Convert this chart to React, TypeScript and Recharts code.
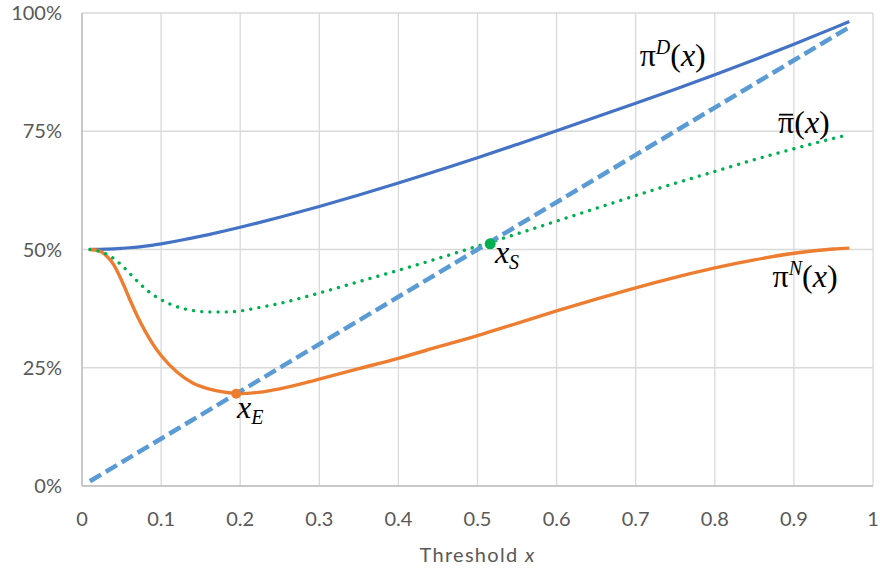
import React from 'react'
import {
    LineChart,
    Line,
    XAxis,
    YAxis,
    CartesianGrid,
    ReferenceDot
} from "recharts";

// threshold values along the x axis
const thresholds = [0.01, 0.02, 0.03, 0.04, 0.05, 0.06, 0.07, 0.08, 0.09, 0.10, 0.12, 0.14, 0.16, 0.18, 0.20, 0.22, 0.25, 0.30, 0.35, 0.40, 0.45, 0.50, 0.55, 0.60, 0.65, 0.70, 0.75, 0.80, 0.85, 0.90, 0.95, 0.97];

const piD = [0.5000, 0.5003, 0.5008, 0.5015, 0.5025, 0.5037, 0.5052, 0.5070, 0.5092, 0.5120, 0.5180, 0.5245, 0.5315, 0.5390, 0.5470, 0.5553, 0.5683, 0.5910, 0.6153, 0.6405, 0.6670, 0.6940, 0.7222, 0.7510, 0.7800, 0.8092, 0.8390, 0.8695, 0.9012, 0.9340, 0.9680, 0.9820];

const piN = [0.500, 0.498, 0.488, 0.468, 0.435, 0.396, 0.359, 0.327, 0.299, 0.276, 0.241, 0.218, 0.2055, 0.1985, 0.1955, 0.1975, 0.2055, 0.226, 0.248, 0.270, 0.294, 0.318, 0.344, 0.370, 0.395, 0.419, 0.441, 0.461, 0.478, 0.492, 0.501, 0.503];

const piBar = [0.500, 0.497, 0.491, 0.481, 0.467, 0.450, 0.433, 0.417, 0.404, 0.394, 0.379, 0.371, 0.368, 0.368, 0.370, 0.376, 0.386, 0.408, 0.432, 0.456, 0.481, 0.507, 0.533, 0.560, 0.587, 0.614, 0.640, 0.665, 0.690, 0.713, 0.735, 0.743];

const diagonal = [0.01, 0.02, 0.03, 0.04, 0.05, 0.06, 0.07, 0.08, 0.09, 0.10, 0.12, 0.14, 0.16, 0.18, 0.20, 0.22, 0.25, 0.30, 0.35, 0.40, 0.45, 0.50, 0.55, 0.60, 0.65, 0.70, 0.75, 0.80, 0.85, 0.90, 0.95, 0.97];

const xTicks = [0, 0.1, 0.2, 0.3, 0.4, 0.5, 0.6, 0.7, 0.8, 0.9, 1];
const yTicks = [0, 0.25, 0.5, 0.75, 1];

// marked points x_E and x_S
const xE = { x: 0.195, y: 0.195 };
const xS = { x: 0.516, y: 0.512 };

const data = thresholds.map((t, i) => ({
    x: t,
    piD: piD[i],
    piN: piN[i],
    piBar: piBar[i],
    diag: diagonal[i]
}));

const serif = "Liberation Serif";
const sans = "Lato";

const MathLabel = ({ cx, cy, sup, sub, bar }: any) => {
    const style = { fontFamily: serif, fontSize: 32 };
    if (sub) {
        return (
            <text x={cx} y={cy} style={style} fill="#000">
                <tspan fontStyle="italic">x</tspan>
                <tspan fontStyle="italic" style={{ fontSize: 20 }} dy={6}>{sub}</tspan>
            </text>
        );
    }
    return (
        <g>
            <text x={cx} y={cy} style={style} fill="#000">
                <tspan>{"\u03C0"}</tspan>
                {sup ? <tspan fontStyle="italic" style={{ fontSize: 20 }} dy={-12}>{sup}</tspan> : null}
                <tspan dy={sup ? 12 : 0}>(</tspan>
                <tspan fontStyle="italic">x</tspan>
                <tspan>)</tspan>
            </text>
            {bar ? <line x1={cx + 1} x2={cx + 15} y1={cy - 18} y2={cy - 18} stroke="#000" strokeWidth={1.8} /> : null}
        </g>
    );
};

const App = () => {
    return (
        <div style={{ position: 'absolute', left: 0, top: 0 }}>
            <LineChart
                width={880}
                height={569}
                data={data}
                margin={{ top: 13, right: 7, left: 0, bottom: 0 }}>
                <CartesianGrid stroke="#d9d9d9" strokeWidth={1.3} />
                <XAxis
                    dataKey="x"
                    type="number"
                    domain={[0, 1]}
                    ticks={xTicks}
                    tickFormatter={(v: number) => String(v)}
                    tickLine={false}
                    tickMargin={20}
                    height={83}
                    axisLine={{ stroke: '#bfbfbf', strokeWidth: 1.5 }}
                    tick={{ fill: '#595959', fontSize: 20, fontFamily: sans }}
                    label={(props: any) => {
                        const vb = props.viewBox;
                        return (
                            <text x={vb.x + vb.width / 2} y={vb.y + 76} textAnchor="middle"
                                style={{ fontFamily: sans, fontSize: 20 }} fill="#595959" letterSpacing={1.3}>
                                Threshold <tspan fontStyle="italic">x</tspan>
                            </text>
                        );
                    }}
                />
                <YAxis
                    type="number"
                    domain={[0, 1]}
                    ticks={yTicks}
                    tickFormatter={(v: number) => `${Math.round(v * 100)}%`}
                    tickLine={false}
                    tickMargin={14}
                    width={82}
                    axisLine={{ stroke: '#bfbfbf', strokeWidth: 1.5 }}
                    tick={{ fill: '#595959', fontSize: 20, fontFamily: sans }}
                />
                <Line type="monotone" dataKey="piD" stroke="#4472C4" strokeWidth={3.2}
                    dot={false} activeDot={false} isAnimationActive={false} />
                <Line type="monotone" dataKey="piN" stroke="#ED7D31" strokeWidth={3.4}
                    dot={false} activeDot={false} isAnimationActive={false} />
                <Line type="monotone" dataKey="piBar" stroke="#00B050" strokeWidth={3.4}
                    strokeDasharray="0.01 8.2" strokeLinecap="round"
                    dot={false} activeDot={false} isAnimationActive={false} />
                <Line type="linear" dataKey="diag" stroke="#5B9BD5" strokeWidth={4.5}
                    strokeDasharray="13 5.5"
                    dot={false} activeDot={false} isAnimationActive={false} />

                <ReferenceDot x={xE.x} y={xE.y} r={5} fill="#ED7D31" stroke="none" />
                <ReferenceDot x={xS.x} y={xS.y} r={5.5} fill="#00B050" stroke="none" />

                <ReferenceDot x={0.705} y={0.889} r={0}
                    shape={(p: any) => <MathLabel cx={p.cx} cy={p.cy} sup="D" />} />
                <ReferenceDot x={0.880} y={0.747} r={0}
                    shape={(p: any) => <MathLabel cx={p.cx} cy={p.cy} bar />} />
                <ReferenceDot x={0.873} y={0.421} r={0}
                    shape={(p: any) => <MathLabel cx={p.cx} cy={p.cy} sup="N" />} />
                <ReferenceDot x={0.196} y={0.144} r={0}
                    shape={(p: any) => <MathLabel cx={p.cx} cy={p.cy} sub="E" />} />
                <ReferenceDot x={0.522} y={0.472} r={0}
                    shape={(p: any) => <MathLabel cx={p.cx} cy={p.cy} sub="S" />} />
            </LineChart>
        </div>
    );
}

export default App
